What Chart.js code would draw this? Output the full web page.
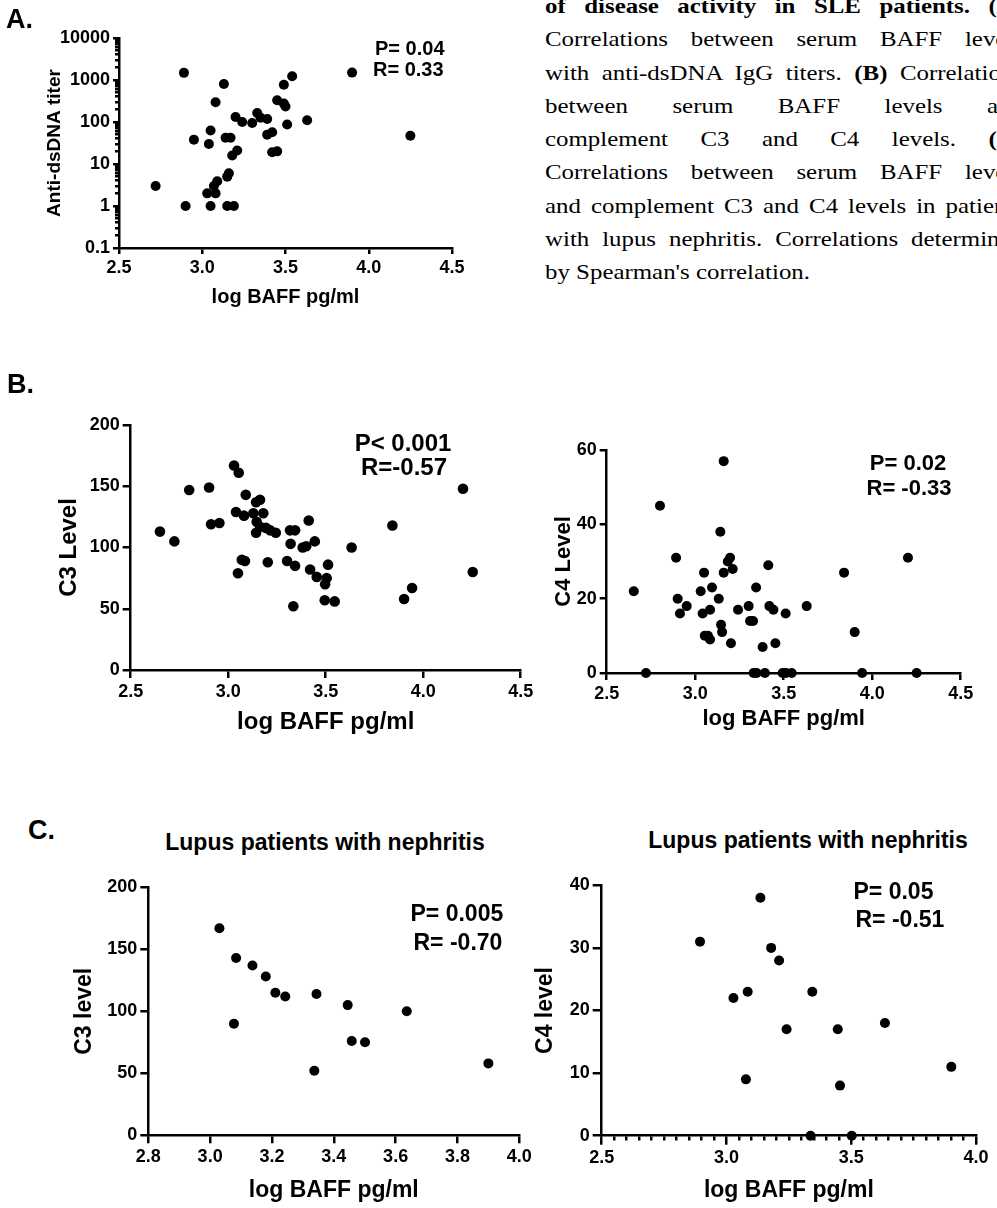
<!DOCTYPE html>
<html><head><meta charset="utf-8">
<script src="https://cdn.jsdelivr.net/npm/chart.js@4.4.1/dist/chart.umd.min.js"></script>
<style>
html,body{margin:0;padding:0;background:#fff;}
body{width:997px;height:1208px;position:relative;overflow:hidden;}
canvas{position:absolute;}
.t{position:absolute;white-space:nowrap;line-height:1;color:#000;}
.sans{font-family:'Liberation Sans',Arial,sans-serif;font-weight:bold;}
.serif{font-family:'Liberation Serif','Times New Roman',serif;font-weight:normal;transform-origin:0 0;}
</style></head><body>
<canvas id="cA"></canvas>
<canvas id="cB1"></canvas>
<canvas id="cB2"></canvas>
<canvas id="cC1"></canvas>
<canvas id="cC2"></canvas>
<script>
// ---------- DATA ----------
// Panel A: log BAFF vs anti-dsDNA titer
const aBaff = [2.89, 2.72, 2.90, 2.95, 3.13, 3.08, 3.05, 3.04, 3.03, 3.08, 3.07, 3.09, 3.05, 3.15, 3.19, 3.15, 3.16, 3.14, 3.17, 3.18, 3.21, 3.20, 3.24, 3.30, 3.33, 3.35, 3.39, 3.39, 3.42, 3.42, 3.45, 3.45, 3.49, 3.50, 3.49, 3.54, 3.51, 3.63, 3.90, 4.25];
const aTiter = [1480, 3, 1, 38, 800, 295, 63, 30, 2, 2, 3, 3.9, 1, 1, 1, 5, 6, 42, 42, 16, 21, 131, 100, 95, 163, 126, 118, 50, 57, 19, 20, 330, 275, 235, 770, 1230, 87, 110, 1500, 47];
// Panel B: log BAFF vs C3
const bBaff = [2.65, 2.724, 2.80, 2.902, 2.912, 2.955, 3.03, 3.054, 3.04, 3.081, 3.09, 3.05, 3.07, 3.086, 3.129, 3.143, 3.163, 3.18, 3.146, 3.143, 3.163, 3.194, 3.215, 3.244, 3.203, 3.302, 3.317, 3.343, 3.32, 3.343, 3.334, 3.382, 3.40, 3.413, 3.42, 3.444, 3.454, 3.505, 3.497, 3.512, 3.495, 3.546, 3.633, 3.842, 3.902, 3.943, 4.204, 4.254];
const bC3 = [113, 105, 147, 149, 119, 120, 167, 161, 129, 126, 143, 79, 90, 89, 128, 137, 139, 128, 121, 112, 117, 116, 114, 112, 88, 89, 114, 114, 103, 85, 52, 100, 101, 122, 82, 105, 76, 75, 70, 86, 57, 56, 100, 118, 58, 67, 148, 80];
// Panel B: log BAFF vs C4
const bBaff4 = [2.653, 2.722, 2.801, 2.892, 2.901, 2.914, 2.952, 3.031, 3.042, 3.05, 3.054, 3.072, 3.084, 3.084, 3.095, 3.133, 3.142, 3.146, 3.152, 3.161, 3.161, 3.184, 3.197, 3.212, 3.202, 3.242, 3.302, 3.31, 3.327, 3.344, 3.33, 3.347, 3.381, 3.394, 3.413, 3.419, 3.442, 3.453, 3.494, 3.513, 3.545, 3.511, 3.63, 3.841, 3.901, 3.943, 4.202, 4.251];
const bC4 = [22, 0, 45, 31, 20, 16, 18, 22, 16, 27, 10, 10, 9, 17, 23, 20, 38, 13, 11, 57, 27, 30, 31, 28, 8, 17, 18, 14, 14, 23, 0, 0, 7, 0, 29, 18, 17, 8, 0, 0, 0, 16, 18, 27, 11, 0, 31, 0];
// Panel C: lupus nephritis, log BAFF vs C3
const cBaff3 = [3.03, 3.084, 3.077, 3.137, 3.18, 3.211, 3.243, 3.344, 3.337, 3.445, 3.458, 3.501, 3.636, 3.90];
const cC3 = [167, 143, 90, 137, 128, 115, 112, 114, 52, 105, 76, 75, 100, 58];
// Panel C: lupus nephritis, log BAFF vs C4
const cBaff4 = [2.894, 3.028, 3.085, 3.078, 3.136, 3.179, 3.211, 3.241, 3.344, 3.337, 3.446, 3.455, 3.502, 3.635, 3.901];
const cC4 = [31, 22, 23, 9, 38, 30, 28, 17, 23, 0, 17, 8, 0, 18, 11];
// Tick labels
const aYTickValues = [0.1, 1, 10, 100, 1000, 10000];
const aYTickLabels = ['0.1', '1', '10', '100', '1000', '10000'];
const xTitle = 'log BAFF pg/ml';

// ---------- HELPERS ----------
const FONT = "'Liberation Sans', Arial, sans-serif";
Chart.defaults.font.family = FONT;
Chart.defaults.font.weight = 'bold';
Chart.defaults.color = '#000';
const AXW = 2.5;

function axis(o) {
  const a = {
    type: o.type || 'linear',
    min: o.min, max: o.max,
    grid: {display: true, drawOnChartArea: false, drawTicks: true, tickLength: o.tickLen,
           color: '#000', lineWidth: AXW, tickWidth: AXW, tickColor: '#000'},
    border: {display: true, color: '#000', width: AXW},
    ticks: {color: '#000', font: {size: o.tickSize, weight: 'bold', family: FONT}, padding: 3,
            maxRotation: 0, minRotation: 0, autoSkip: false},
    title: {display: true, text: o.title, color: '#000',
            font: {size: o.titleSize, weight: 'bold', family: FONT, lineHeight: 1.2}, padding: o.titlePad}
  };
  if (o.step !== undefined) a.ticks.stepSize = o.step;
  if (o.callback) a.ticks.callback = o.callback;
  if (o.dash) a.grid.tickBorderDash = o.dash;
  if (o.dashOffset) a.grid.tickBorderDashOffset = o.dashOffset;
  if (o.afterBuildTicks) a.afterBuildTicks = o.afterBuildTicks;
  return a;
}

function scatter(id, box, area, xs, ys, radius, xOpt, yOpt) {
  const cv = document.getElementById(id);
  cv.width = box.r - box.l; cv.height = box.b - box.t;
  cv.style.left = box.l + 'px'; cv.style.top = box.t + 'px';
  const yW = area.x0 - box.l, xH = box.b - area.y1;
  const xs2 = axis(xOpt), ys2 = axis(yOpt);
  xs2.afterFit = s => { s.height = xH; };
  ys2.afterFit = s => { s.width = yW; };
  return new Chart(cv, {
    type: 'scatter',
    data: {datasets: [{data: xs.map((x, i) => ({x: x, y: ys[i]})), backgroundColor: '#000',
      borderColor: '#000', borderWidth: 0, pointRadius: radius, pointHoverRadius: radius, clip: false}]},
    options: {
      responsive: false, animation: false, devicePixelRatio: 1, events: [],
      layout: {padding: {top: area.y0 - box.t, right: box.r - area.x1, left: 0, bottom: 0}},
      plugins: {legend: {display: false}, tooltip: {enabled: false}, title: {display: false}},
      scales: {x: xs2, y: ys2}
    }
  });
}
const fix1 = v => Number(v).toFixed(1);

// ---------- CHARTS ----------
// A
scatter('cA', {l: 30, t: 20, r: 520, b: 310}, {x0: 119, x1: 452, y0: 38, y1: 248}, aBaff, aTiter, 5,
  {min: 2.5, max: 4.5, step: 0.5, tickLen: 6, tickSize: 18, title: xTitle, titleSize: 20,
   titlePad: {top: 0, bottom: 1}, callback: fix1},
  {type: 'logarithmic', min: 0.1, max: 10000, tickLen: 6, tickSize: 18, title: 'Anti-dsDNA titer', titleSize: 19,
   titlePad: {top: 13.6, bottom: 0},
   afterBuildTicks: s => {
     const t = [];
     aYTickValues.forEach((v, i) => {
       t.push({value: v, major: true});
       if (i < aYTickValues.length - 1) for (let k = 2; k <= 9; k++) t.push({value: v * k, major: false});
     });
     s.ticks = t;
   },
   callback: (v, i, ticks) => ticks[i].major ? aYTickLabels[aYTickValues.indexOf(ticks[i].value)] : '',
   dash: ctx => (ctx.tick && ctx.tick.major) ? [] : [3, 2],
   dashOffset: ctx => (ctx.tick && ctx.tick.major) ? 0 : 3});

// B left (C3)
scatter('cB1', {l: 40, t: 405, r: 545, b: 745}, {x0: 130.7, x1: 520.7, y0: 425, y1: 670}, bBaff, bC3, 5.3,
  {min: 2.5, max: 4.5, step: 0.5, tickLen: 8, tickSize: 18, title: xTitle, titleSize: 24,
   titlePad: {top: 0, bottom: 8}, callback: fix1},
  {min: 0, max: 200, step: 50, tickLen: 8, tickSize: 18, title: 'C3 Level', titleSize: 24,
   titlePad: {top: 14.6, bottom: 0}});

// B right (C4)
scatter('cB2', {l: 545, t: 420, r: 990, b: 745}, {x0: 606.7, x1: 960.7, y0: 450, y1: 673}, bBaff4, bC4, 5,
  {min: 2.5, max: 4.5, step: 0.5, tickLen: 7, tickSize: 18, title: xTitle, titleSize: 22,
   titlePad: {top: 0, bottom: 12.5}, callback: fix1},
  {min: 0, max: 60, step: 20, tickLen: 7, tickSize: 18, title: 'C4 Level', titleSize: 22,
   titlePad: {top: 5.8, bottom: 0}});

// C left (C3, nephritis)
scatter('cC1', {l: 55, t: 870, r: 560, b: 1208}, {x0: 148.3, x1: 519.3, y0: 887.3, y1: 1135.3}, cBaff3, cC3, 5,
  {min: 2.8, max: 4.0, step: 0.2, tickLen: 8, tickSize: 18, title: xTitle, titleSize: 23,
   titlePad: {top: 0, bottom: 3.2}, callback: fix1},
  {min: 0, max: 200, step: 50, tickLen: 8, tickSize: 18, title: 'C3 level', titleSize: 23,
   titlePad: {top: 16.2, bottom: 0}});

// C right (C4, nephritis)
const isHalf = v => Math.abs(v * 2 - Math.round(v * 2)) < 1e-6;
scatter('cC2', {l: 525, t: 870, r: 995, b: 1208}, {x0: 601.7, x1: 976, y0: 885.3, y1: 1135.7}, cBaff4, cC4, 5,
  {min: 2.5, max: 4.0, step: 0.05, tickLen: 9, tickSize: 18, title: xTitle, titleSize: 23,
   titlePad: {top: 0, bottom: 3.2},
   callback: v => isHalf(v) ? fix1(v) : '',
   dash: ctx => (ctx.tick && isHalf(ctx.tick.value)) ? [] : [4, 100]},
  {min: 0, max: 40, step: 10, tickLen: 9, tickSize: 18, title: 'C4 level', titleSize: 23,
   titlePad: {top: 7.2, bottom: 0}});

// ---------- TEXT ----------
function txt(html, x, baseline, size, opt) {
  opt = opt || {};
  const d = document.createElement('div');
  d.className = 't ' + (opt.serif ? 'serif' : 'sans');
  d.style.fontSize = size + 'px';
  d.style.top = (baseline - (opt.serif ? 0.8375 : 0.8465) * size) + 'px';
  d.style.left = x + 'px';
  if (opt.center) d.style.transform = 'translateX(-50%)';
  d.innerHTML = html;
  document.body.appendChild(d);
  return d;
}
// panel labels
txt('A.', 6, 28.5, 27);
txt('B.', 7, 394, 27);
txt('C.', 28, 840, 27);
// annotations
txt('P= 0.04', 375, 55, 20);
txt('R= 0.33', 373, 76, 20);
txt('P&lt; 0.001', 403, 451.7, 24, {center: true});
txt('R=-0.57', 404, 475, 24, {center: true});
txt('P= 0.02', 908, 471, 22, {center: true});
txt('R= -0.33', 909, 496, 22, {center: true});
txt('P= 0.005', 410.5, 921, 23);
txt('R= -0.70', 413.5, 950, 23);
txt('P= 0.05', 853.5, 899, 23);
txt('R= -0.51', 855.5, 927, 23);
txt('Lupus patients with nephritis', 325, 850, 23, {center: true});
txt('Lupus patients with nephritis', 808, 848, 23, {center: true});

// caption (justified lines, clipped at the page edge)
const capLines = [
  '<b>of disease activity in SLE patients. (A)</b>',
  'Correlations between serum BAFF levels',
  'with anti-dsDNA IgG titers. <b>(B)</b> Correlations',
  'between serum BAFF levels and',
  'complement C3 and C4 levels. <b>(C)</b>',
  'Correlations between serum BAFF levels',
  'and complement C3 and C4 levels in patients',
  'with lupus nephritis. Correlations determined',
  "by Spearman's correlation."
];
const capLeft = 545, capWidth = 478, capSize = 22, lastLineWidth = 265;
const capDivs = capLines.map((h, i) => txt(h, capLeft, 13.5 + 33.25 * i, capSize, {serif: true}));
const lastNat = capDivs[capDivs.length - 1].getBoundingClientRect().width;
const sx = lastLineWidth / lastNat;
capDivs.forEach((d, i) => {
  if (i < capDivs.length - 1) {
    const nat = d.getBoundingClientRect().width;
    const spaces = (d.textContent.match(/ /g) || []).length;
    if (spaces > 0) d.style.wordSpacing = ((capWidth / sx - nat) / spaces) + 'px';
  }
  d.style.transform = 'scaleX(' + sx + ')';
});
</script></body></html>
